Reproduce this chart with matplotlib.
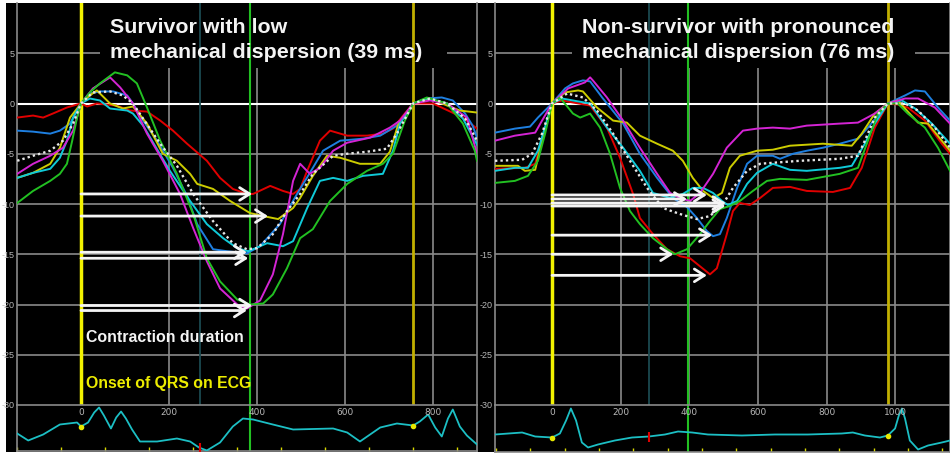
##Strain curves of two patients (survivor / non-survivor) with ECG strip below
import numpy as np
import matplotlib
matplotlib.use('Agg')
import matplotlib.pyplot as plt
from matplotlib.patches import Rectangle

plt.rcParams['font.family'] = ['Liberation Sans', 'DejaVu Sans']
plt.rcParams['axes.unicode_minus'] = False

##################################### Left panel data (survivor) #####################################
L_red_t = [-145, -109, -86, -64, -32, -9, 0, 14, 36, 80, 111, 150, 180, 209, 241, 286, 316, 345, 377, 391, 430, 459, 482, 498, 514, 543, 566, 605, 650, 686, 709, 732, 755, 800, 839, 868, 900]
L_red_s = [-1.4, -1.2, -1.4, -1.0, -0.4, -0.1, 0.0, -0.3, 0.0, -0.2, -0.7, -0.8, -1.7, -2.7, -4.0, -5.7, -7.4, -8.5, -9.0, -9.0, -8.2, -8.7, -9.0, -8.5, -6.7, -3.7, -2.7, -3.2, -3.2, -3.0, -2.5, -1.2, 0.0, 0.0, -0.8, -1.4, -2.5]

L_blue_t = [-145, -109, -70, -48, -25, -9, 0, 20, 43, 73, 105, 118, 141, 173, 209, 241, 264, 300, 332, 377, 407, 452, 491, 527, 550, 589, 641, 680, 718, 755, 786, 820, 845, 873, 890, 900]
L_blue_s = [-2.7, -2.8, -3.0, -2.7, -2.0, -0.7, 0.0, 1.0, 1.2, 1.2, 0.8, 0.0, -1.7, -3.7, -6.4, -9.2, -12.0, -14.5, -14.7, -14.9, -14.2, -12.0, -9.0, -6.4, -4.7, -3.7, -3.5, -3.2, -2.2, 0.0, 0.5, 0.6, 0.3, -1.0, -2.2, -3.4]

L_green_t = [-145, -109, -70, -48, -32, -20, -9, 0, 20, 43, 77, 105, 127, 150, 180, 218, 255, 286, 316, 355, 384, 414, 436, 468, 498, 527, 566, 605, 650, 686, 709, 736, 755, 786, 832, 868, 895, 900]
L_green_s = [-9.9, -8.7, -7.7, -7.0, -6.0, -3.7, -1.4, 0.0, 1.1, 2.0, 3.1, 2.8, 2.0, -0.4, -3.7, -7.0, -11.0, -15.4, -17.7, -19.5, -20.0, -19.9, -19.0, -16.4, -13.4, -12.5, -9.7, -8.0, -6.7, -6.0, -5.0, -1.7, 0.0, 0.6, 0.0, -2.0, -4.7, -5.7]

L_mag_t = [-145, -109, -70, -41, -18, 0, 27, 66, 89, 118, 150, 186, 225, 255, 286, 316, 355, 377, 407, 436, 459, 482, 498, 520, 543, 573, 605, 657, 702, 725, 755, 793, 832, 877, 900]
L_mag_s = [-7.0, -6.0, -5.2, -4.4, -2.7, 0.0, 1.5, 2.6, 1.6, 0.0, -3.0, -5.7, -9.0, -12.4, -15.7, -18.4, -20.0, -20.4, -19.6, -17.0, -13.0, -7.7, -6.0, -7.0, -6.4, -4.7, -3.9, -3.4, -2.4, -1.7, 0.0, 0.3, 0.0, -1.4, -5.0]

L_cyan_t = [-145, -109, -70, -48, -32, -18, 0, 20, 43, 66, 105, 118, 141, 202, 248, 286, 323, 355, 380, 407, 423, 459, 482, 514, 543, 573, 605, 641, 686, 709, 725, 755, 786, 832, 868, 900]
L_cyan_s = [-7.4, -6.9, -6.5, -5.4, -3.7, -1.4, 0.0, 0.5, 0.3, -0.5, -0.7, -1.0, -2.2, -6.7, -9.7, -12.0, -13.4, -14.4, -14.7, -14.2, -13.9, -14.2, -13.7, -10.4, -7.7, -7.4, -7.7, -7.2, -7.0, -4.7, -2.0, 0.0, 0.5, 0.0, -1.5, -4.1]

L_yel_t = [-145, -109, -70, -48, -25, 0, 20, 36, 66, 95, 118, 150, 186, 218, 248, 264, 300, 339, 384, 414, 448, 482, 498, 527, 559, 589, 634, 680, 702, 720, 755, 793, 832, 861, 900]
L_yel_s = [-7.4, -6.9, -6.0, -4.4, -1.4, 0.0, 0.8, 1.3, 0.0, -0.5, -0.3, -2.0, -5.0, -5.7, -7.0, -8.0, -8.5, -9.7, -10.9, -11.2, -11.5, -10.4, -9.4, -7.2, -5.2, -5.4, -6.0, -6.0, -4.8, -2.2, 0.0, 0.5, -0.2, -0.7, -0.9]

L_avg_t = [-145, -109, -70, -41, -18, 0, 27, 66, 95, 118, 141, 180, 218, 255, 300, 345, 377, 400, 436, 468, 498, 527, 573, 605, 650, 695, 718, 755, 793, 832, 873, 900]
L_avg_s = [-5.7, -5.2, -4.7, -3.7, -2.0, 0.0, 1.1, 1.2, 0.8, 0.0, -1.5, -4.0, -6.2, -9.0, -11.7, -13.9, -14.5, -14.4, -13.0, -10.7, -9.0, -7.0, -5.2, -5.0, -4.8, -4.5, -3.0, 0.0, 0.5, 0.0, -1.5, -3.7]

##Arrows: strain level and time to peak (ms)
L_arrow_s = [-9.0, -11.2, -14.8, -15.4, -20.1, -20.6]
L_arrow_t = [389, 425, 377, 380, 389, 377]

L_ecg_t = [-145, -120, -86, -48, -9, 0, 16, 30, 41, 52, 68, 80, 91, 102, 116, 134, 173, 218, 248, 268, 286, 316, 345, 368, 391, 436, 482, 573, 605, 634, 680, 718, 755, 770, 789, 805, 820, 834, 845, 861, 877, 900]
L_ecg_a = [1.7, 1.0, 1.6, 2.6, 2.8, 2.4, 2.8, 3.8, 4.3, 3.5, 2.2, 3.3, 3.9, 3.2, 2.1, 0.9, 0.9, 1.2, 0.9, 0.3, 0.0, 0.8, 2.4, 3.2, 3.1, 2.6, 2.1, 2.2, 1.8, 0.9, 2.3, 2.7, 2.5, 2.9, 3.6, 2.3, 1.4, 3.2, 4.1, 2.4, 1.5, 0.6]

L_qrs = [0, 755]
L_green_line = 384
L_teal_line = 270
L_title = ['Survivor with low', 'mechanical dispersion (39 ms)']

##################################### Right panel data (non-survivor) #####################################
R_red_t = [-166, -79, -49, -29, 0, 29, 61, 111, 160, 198, 236, 256, 294, 335, 373, 402, 431, 460, 480, 509, 527, 547, 576, 606, 643, 693, 742, 818, 868, 902, 940, 978, 1007, 1036, 1086, 1135, 1159]
R_red_s = [-6.5, -6.4, -6.0, -3.7, 0.0, 0.3, 0.1, -0.2, -2.4, -5.4, -9.0, -11.4, -13.0, -14.5, -15.2, -15.4, -16.2, -17.0, -16.4, -13.0, -10.7, -9.9, -10.1, -9.4, -8.4, -8.3, -8.7, -8.8, -8.4, -6.4, -2.4, 0.0, -0.1, -0.4, -1.7, -4.0, -5.0]

R_blue_t = [-166, -108, -64, -41, 0, 38, 61, 90, 111, 146, 207, 256, 306, 352, 393, 422, 451, 469, 489, 509, 539, 568, 597, 643, 664, 702, 742, 789, 838, 891, 920, 978, 1028, 1057, 1086, 1124, 1159]
R_blue_s = [-2.9, -2.5, -2.3, -1.4, 0.0, 1.5, 2.0, 2.3, 2.2, 0.6, -2.0, -5.0, -7.4, -9.4, -10.3, -11.4, -12.7, -13.2, -13.0, -11.4, -8.4, -6.0, -5.2, -5.2, -5.5, -5.0, -4.7, -4.4, -4.0, -3.5, -2.4, 0.0, 0.8, 1.3, 1.2, -0.4, -1.7]

R_mag_t = [-166, -108, -49, -29, 0, 47, 96, 111, 119, 160, 207, 256, 306, 344, 373, 402, 431, 469, 509, 556, 597, 643, 693, 742, 838, 891, 940, 978, 1028, 1066, 1115, 1159]
R_mag_s = [-3.7, -3.2, -2.9, -1.7, 0.0, 1.5, 2.1, 2.6, 2.3, 0.6, -1.7, -4.4, -7.0, -8.9, -9.4, -9.7, -8.9, -7.0, -4.4, -2.7, -2.5, -2.4, -2.5, -2.2, -2.0, -1.9, -1.0, 0.0, 0.5, 0.5, -0.4, -2.0]

R_yel_t = [-166, -99, -79, -49, -29, 0, 38, 76, 90, 131, 178, 218, 256, 306, 352, 381, 410, 440, 469, 495, 518, 547, 597, 643, 693, 789, 873, 902, 940, 978, 1007, 1036, 1066, 1095, 1135, 1159]
R_yel_s = [-6.2, -6.2, -6.7, -6.6, -3.7, 0.0, 1.1, 1.3, 1.2, -0.4, -1.7, -1.9, -3.2, -4.0, -4.7, -5.7, -7.4, -8.7, -9.4, -8.9, -6.4, -5.2, -4.7, -4.6, -4.2, -4.0, -4.2, -3.0, -1.0, 0.0, 0.3, -0.8, -1.9, -2.0, -3.7, -4.7]

R_cyan_t = [-166, -108, -70, -41, 0, 29, 61, 111, 160, 207, 256, 294, 344, 381, 410, 440, 469, 495, 512, 539, 568, 597, 643, 693, 742, 838, 873, 911, 940, 978, 1019, 1057, 1106, 1159]
R_cyan_s = [-6.7, -6.4, -6.4, -4.7, 0.0, 0.5, 0.3, 0.0, -2.4, -4.4, -6.7, -8.9, -9.4, -9.0, -8.4, -8.4, -8.9, -9.7, -10.1, -9.7, -8.0, -6.9, -6.0, -6.6, -6.7, -6.4, -6.2, -4.0, -2.0, 0.0, 0.3, -0.5, -2.0, -4.0]

R_green_t = [-166, -108, -70, -41, -20, 0, 23, 61, 82, 111, 140, 169, 198, 227, 256, 294, 335, 358, 393, 431, 460, 489, 518, 547, 585, 626, 664, 742, 838, 891, 920, 949, 978, 1007, 1036, 1086, 1124, 1159]
R_green_s = [-7.9, -7.7, -7.2, -5.7, -3.0, 0.0, 0.6, -1.0, -1.4, -1.0, -2.4, -5.0, -8.4, -10.7, -12.0, -13.4, -14.5, -15.0, -14.5, -13.0, -11.7, -10.5, -10.2, -9.7, -8.7, -7.7, -7.5, -7.6, -7.0, -6.4, -3.7, -1.0, 0.0, 0.0, -1.0, -2.4, -4.4, -6.7]

R_avg_t = [-166, -87, -58, -29, 0, 44, 90, 131, 178, 227, 277, 323, 373, 422, 460, 498, 527, 568, 606, 643, 722, 838, 891, 911, 940, 978, 1028, 1066, 1115, 1159]
R_avg_s = [-5.7, -5.6, -5.0, -3.0, 0.0, 1.0, 0.6, -0.7, -3.0, -5.7, -8.4, -10.4, -11.0, -11.5, -11.2, -10.0, -8.4, -6.7, -6.0, -5.9, -5.7, -5.5, -5.2, -3.7, -1.4, 0.0, 0.0, -0.7, -2.4, -4.4]

R_arrow_s = [-9.1, -9.5, -9.9, -10.2, -13.1, -15.0, -17.1]
R_arrow_t = [451, 393, 505, 505, 466, 353, 451]

R_ecg_t = [-166, -87, -49, 0, 23, 41, 55, 70, 87, 105, 134, 183, 233, 282, 329, 367, 408, 454, 553, 649, 745, 844, 876, 911, 955, 978, 999, 1010, 1019, 1028, 1042, 1066, 1095, 1135, 1159]
R_ecg_a = [1.7, 1.9, 1.5, 1.4, 1.8, 3.1, 4.3, 3.1, 0.9, 0.4, 0.7, 1.1, 1.4, 1.5, 1.7, 2.0, 1.9, 1.7, 1.6, 1.7, 1.7, 1.8, 1.9, 1.6, 1.4, 1.6, 2.3, 3.6, 4.3, 3.3, 1.1, 0.2, 0.6, 0.9, 1.1]

R_qrs = [0, 978]
R_green_line = 395
R_teal_line = 282
R_title = ['Non-survivor with pronounced', 'mechanical dispersion (76 ms)']

##Segment colours as in the echo software
RED = '#e00000'; BLUE = '#1e7fe0'; GREEN = '#22c022'; MAG = '#d424d4'; CYAN = '#10cad8'; YEL = '#cccc00'
GRID = '#8a8a8a'; LABEL = '#b8b8b8'

W, H = 950.0, 455.0
fig = plt.figure(figsize=(9.5, 4.55), dpi=100, facecolor='white')
##black background of the screenshot, thin white strip on top, bottom and left
fig.add_artist(Rectangle((6 / W, 3 / H), 1, 449 / H, transform=fig.transFigure, facecolor='black', edgecolor='none', zorder=0))


def panel(x0, x1, xlim, curves, avg, arrows_s, arrows_t, ecg_t, ecg_a, qrs, green_t, teal_t,
          grid_x, ecg_labels, ecg_ticks, title, title_x, box_x, ecg_bottom):
    ##upper part: strain curves
    ax = fig.add_axes([x0 / W, (H - 405) / H, (x1 - x0) / W, 402 / H], facecolor='black')
    ax.set_xlim(xlim)
    ax.set_ylim(-30, 10)
    for v in grid_x:
        ax.axvline(v, color=GRID, lw=1.2, zorder=0.5)
    for h in [5, -5, -10, -15, -20, -25]:
        ax.axhline(h, color=GRID, lw=1.2, zorder=0.5)
    ax.axhline(0, color='white', lw=1.5, zorder=0.6)
    ##black box behind the title hides the grid
    ax.add_patch(Rectangle((box_x[0], (405 - 68) / 402), box_x[1] - box_x[0], 1, transform=ax.transAxes,
                           facecolor='black', edgecolor='none', zorder=1))
    ax.axvline(teal_t, color='#1b4a50', lw=1.3, zorder=2)
    ax.axvline(qrs[0], color='#f2f200', lw=2.5, zorder=2)
    ax.axvline(qrs[1], color='#c2b000', lw=2, zorder=2)
    ax.axvline(green_t, color=GREEN, lw=1.5, zorder=2)
    for t, s, c in curves:
        ax.plot(t, s, color=c, lw=1.4, zorder=3)
    ax.plot(avg[0], avg[1], color='#e6e6e6', lw=1.7, ls=(0, (1, 1.3)), zorder=3.5)
    for s, tip in zip(arrows_s, arrows_t):
        ax.annotate('', xy=(tip, s), xytext=(0, s), zorder=4,
                    arrowprops=dict(arrowstyle='->,head_length=0.55,head_width=0.35', color='#f4f4f4',
                                    lw=2, mutation_scale=13, shrinkA=0, shrinkB=0))
    ax.set_xticks([])
    ticks = list(range(5, -31, -5))
    ax.set_yticks(ticks)
    ax.set_yticklabels([str(v) for v in ticks])
    ax.tick_params(axis='y', length=0, pad=2, labelsize=6.5, labelcolor=LABEL)
    for side in ['left', 'right']:
        ax.spines[side].set_color(GRID)
        ax.spines[side].set_linewidth(1.2)
    ax.spines['top'].set_visible(False)
    ax.spines['bottom'].set_visible(False)
    ##title, two lines
    ax.text(title_x, (405 - 33) / 402, title[0], transform=ax.transAxes, color='#f4f4f4',
            fontsize=15.4, fontweight='bold', va='baseline', zorder=6)
    ax.text(title_x, (405 - 58) / 402, title[1], transform=ax.transAxes, color='#f4f4f4',
            fontsize=15.4, fontweight='bold', va='baseline', zorder=6)

    ##lower part: ECG strip
    ex = fig.add_axes([x0 / W, (H - ecg_bottom) / H, (x1 - x0) / W, (ecg_bottom - 405) / H], facecolor='black')
    ex.set_xlim(xlim)
    ex.set_ylim(-0.05, (ecg_bottom - 405) / 10.0 - 0.05)
    ex.axvline(green_t, color=GREEN, lw=1.5, zorder=2)
    ex.plot(ecg_t, ecg_a, color='#1cbfc4', lw=1.3, zorder=3)
    dot_a = [ecg_a[ecg_t.index(q)] for q in qrs]
    ex.plot(qrs, dot_a, 'o', color='#e8e800', ms=3, zorder=4)
    ex.plot([teal_t], [np.interp(teal_t, ecg_t, ecg_a)], marker='|', color='#e00000', ms=7, mew=1.5, zorder=4)
    for v in ecg_labels:
        ex.text(v, 0.83, str(v), transform=ex.get_xaxis_transform(), ha='center', va='center',
                color=LABEL, fontsize=6.5, family='DejaVu Sans')
    ex.set_xticks(ecg_ticks)
    ex.tick_params(axis='x', direction='in', length=3, width=1, color='#d8d800', labelbottom=False)
    ex.set_yticks([])
    for side in ['left', 'right', 'top', 'bottom']:
        ex.spines[side].set_color(GRID)
        ex.spines[side].set_linewidth(1.2)
    return ax, ex


##Left panel
ax_l, ex_l = panel(17, 477, (-145.5, 900),
                   [(L_red_t, L_red_s, RED), (L_blue_t, L_blue_s, BLUE), (L_yel_t, L_yel_s, YEL),
                    (L_cyan_t, L_cyan_s, CYAN), (L_mag_t, L_mag_s, MAG), (L_green_t, L_green_s, GREEN)],
                   (L_avg_t, L_avg_s), L_arrow_s, L_arrow_t, L_ecg_t, L_ecg_a, L_qrs, L_green_line, L_teal_line,
                   [200, 400, 600, 800], [0, 200, 400, 600, 800], np.arange(-145, 900, 100),
                   L_title, (110 - 17) / 460, ((100 - 17) / 460, (447 - 17) / 460), 451)

##Right panel
ax_r, ex_r = panel(495, 950, (-166, 1159),
                   [(R_red_t, R_red_s, RED), (R_blue_t, R_blue_s, BLUE), (R_yel_t, R_yel_s, YEL),
                    (R_cyan_t, R_cyan_s, CYAN), (R_mag_t, R_mag_s, MAG), (R_green_t, R_green_s, GREEN)],
                   (R_avg_t, R_avg_s), R_arrow_s, R_arrow_t, R_ecg_t, R_ecg_a, R_qrs, R_green_line, R_teal_line,
                   [200, 400, 600, 800, 1000], [0, 200, 400, 600, 800, 1000], np.arange(-163, 1159, 100),
                   R_title, (582 - 495) / 455, ((572 - 495) / 455, (915 - 495) / 455), 452)

##Annotations of the left panel
ax_l.text((86 - 17) / 460, (405 - 342) / 402, 'Contraction duration', transform=ax_l.transAxes,
          color='#f4f4f4', fontsize=11.4, fontweight='bold', va='baseline', zorder=6)
ax_l.text((86 - 17) / 460, (405 - 388) / 402, 'Onset of QRS on ECG', transform=ax_l.transAxes,
          color='#ecec00', fontsize=11.4, fontweight='bold', va='baseline', zorder=6)

plt.savefig('out.png', dpi=100, facecolor='white')
